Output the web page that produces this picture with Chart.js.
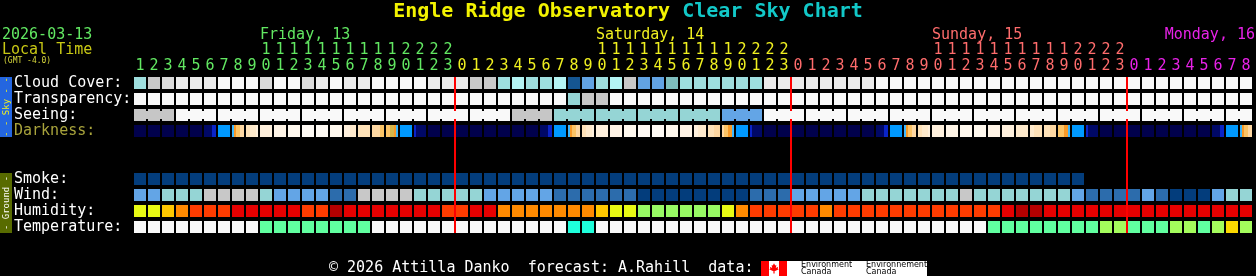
<!DOCTYPE html>
<html lang="en">
<head>
<meta charset="UTF-8" />
<title>Engle Ridge Observatory Clear Sky Chart</title>
<script src="https://cdn.jsdelivr.net/npm/chart.js@4.4.1/dist/chart.umd.min.js"></script>
<style>
  html, body { margin: 0; padding: 0; background: #000; }
  canvas { display: block; }
</style>
</head>
<body>
<canvas id="csc" width="1256" height="276"></canvas>
<script>
// local hour of each column (Fri 1h .. Mon 8h)
const hours = [1,2,3,4,5,6,7,8,9,10,11,12,13,14,15,16,17,18,19,20,21,22,23,
  0,1,2,3,4,5,6,7,8,9,10,11,12,13,14,15,16,17,18,19,20,21,22,23,
  0,1,2,3,4,5,6,7,8,9,10,11,12,13,14,15,16,17,18,19,20,21,22,23,
  0,1,2,3,4,5,6,7,8];
const days = ['Friday, 13', 'Saturday, 14', 'Sunday, 15', 'Monday, 16'];
const dayColors = ['#62e862', '#f0f020', '#ff6c6c', '#e822e8'];

const rowLabels = ['Cloud Cover:', 'Transparency:', 'Seeing:', 'Darkness:', 'Smoke:', 'Wind:', 'Humidity:', 'Temperature:'];
const rowPos = [0, 1, 2, 3, 6, 7, 8, 9];

// cloud cover, percent
const cloud = [50,70,80,90,90,90,100,100,100,80,100,100,80,90,100,90,90,100,100,100,100,
  90,90,90,70,70,50,60,50,50,60,10,30,50,60,70,30,30,40,50,50,
  50,50,50,50,90,90,90,90,90,90,90,90,100,100,100,100,100,100,100,100,
  100,100,100,100,100,100,100,100,100,100,100,100,100,100,100,100,100,100,100];
// 0 too cloudy, 1 poor, 2 below average
const transparency = [0,0,0,0,0,0,0,0,0,0,0,0,0,0,0,0,0,0,0,0,0,
  0,0,0,0,0,0,0,0,0,0,2,1,1,0,0,0,0,0,0,0,
  0,0,0,0,0,0,0,0,0,0,0,0,0,0,0,0,0,0,0,0,
  0,0,0,0,0,0,0,0,0,0,0,0,0,0,0,0,0,0,0];
// 0 too cloudy, 1 bad, 2 poor, 3 average
const seeing = [1,1,1,0,0,0,0,0,0,0,0,0,0,0,0,0,0,0,0,0,0,
  0,0,0,0,0,0,1,1,1,2,2,2,2,2,2,2,2,2,2,2,
  2,3,3,3,0,0,0,0,0,0,0,0,0,0,0,0,0,0,0,0,
  0,0,0,0,0,0,0,0,0,0,0,0,0,0,0,0,0,0,0];
// darkness, six samples per hour
const darkness = ['NNNNNN','NNNNNN','NNNNNN','NNNNNN','NNNNNN','LLLLDD','BBBBBB','COYYPP','QQRRRS','SSSSSS',
  'TTTTTT','UUUUUU','VVVVVV','VVVVVV','UUUUUU','SSSRRR','QQQQQQ','PPPPYY','YYGGOC','BBBBBB',
  'DLLLLL','NNNNNN','NNNNNN','NNNNNN','NNNNNN','NNNNNN','NNNNNN','NNNNNN','NNNNNN','LLLLDD',
  'BBBBBB','COYYPP','QQRRRS','SSSSSS','TTTTTT','UUUUUU','VVVVVV','VVVVVV','UUUUUU','TTTTTT',
  'SSRRRR','QQQPPP','PYYOOC','BBBBBB','DLLLLL','NNNNNN','NNNNNN','NNNNNN','NNNNNN','NNNNNN',
  'NNNNNN','NNNNNN','NNNNNN','LLLLDD','BBBBBB','COYYPP','QQRRRS','SSSSSS','TTTTTT','UUUUUU',
  'UUUUUU','TTTTTT','SSSSSS','RRRRRR','RRQQQQ','QQQPPP','YYYOOC','BBBBBB','DLLLLL','NNNNNN',
  'NNNNNN','NNNNNN','NNNNNN','NNNNNN','NNNNNN','NNNNNN','NNNNNN','LLLLDD','BBBBBB','COYYPP'];
// 0 no smoke, null = no forecast
const smoke = [0,0,0,0,0,0,0,0,0,0,0,0,0,0,0,0,0,0,0,0,0,
  0,0,0,0,0,0,0,0,0,0,0,0,0,0,0,0,0,0,0,0,
  0,0,0,0,0,0,0,0,0,0,0,0,0,0,0,0,0,0,0,0,
  0,0,0,0,0,0,0,null,null,null,null,null,null,null,null,null,null,null,null];
// 0: 0-5 km/h, 1: 6-11, 2: 12-16, 3: 17-28, 4: 29-45
const wind = [2,2,3,3,3,4,4,4,4,3,2,2,2,2,1,1,4,4,4,4,3,
  3,3,3,3,2,2,2,2,2,1,1,1,1,1,1,0,0,0,0,0,
  0,0,0,1,1,1,2,2,2,2,2,3,3,3,3,3,3,3,4,3,
  3,3,3,3,3,3,2,1,1,1,1,2,1,0,0,0,2,3,3];
// relative humidity, percent
const humidity = [63,63,68,73,78,78,78,85,85,85,85,85,78,78,95,85,85,85,85,85,85,
  85,78,78,85,85,73,73,73,73,73,73,73,68,63,63,58,58,58,58,58,
  58,63,73,78,78,78,78,78,73,78,78,78,78,78,78,78,78,78,78,78,
  78,85,95,95,85,85,85,85,85,85,85,85,85,85,85,85,85,85,85];
// temperature class
const temperature = [0,0,0,0,0,0,0,0,0,2,2,2,2,2,2,2,2,0,0,0,0,
  0,0,0,0,0,0,0,0,0,0,1,1,0,0,0,0,0,0,0,0,
  0,0,0,0,0,0,0,0,0,0,0,0,0,0,0,0,0,0,0,0,
  2,2,2,2,2,2,2,2,3,3,2,2,2,3,3,2,3,4,3];

const cloudColors = {0:'#003f7f',10:'#155692',20:'#2c6faf',30:'#62a3e3',40:'#7ebebe',50:'#9edede',
  60:'#b4f4f4',70:'#c8c8c8',80:'#dadada',90:'#ebebeb',100:'#f9f9f9'};
const transColors = ['#f9f9f9', '#c8c8c8', '#95d5d5'];
const seeingColors = ['#f9f9f9', '#c6c6c6', '#95d5d5', '#63a5e6'];
const darkColors = {N:'#01014c', L:'#000866', D:'#0a24c8', B:'#0099ff', C:'#3cb8ff', O:'#f89a28',
  Y:'#fcc466', G:'#d6b64a', P:'#ffd8a2', Q:'#ffe2b8', R:'#ffeacc', S:'#fff0dc', T:'#fff4e6',
  U:'#fff8ee', V:'#fffaf4'};
const smokeColors = ['#033d7c'];
const windColors = ['#033d7c', '#2c6cac', '#63a5e6', '#95d5d5', '#c8c8c8'];
const humidSteps = [[60,'#98fa64'],[65,'#e8fa14'],[70,'#fec800'],[75,'#ff8a00'],[80,'#ff3c00'],[90,'#e60000'],[101,'#b40000']];
const tempColors = ['#f9f9f9', '#1effdc', '#60ffa0', '#a4fc5c', '#fcd800'];

const dayOf = [];
hours.forEach((h, i) => dayOf.push(i === 0 ? 0 : dayOf[i - 1] + (h === 0 ? 1 : 0)));

const HALF = 0.375;
const FONT = 'DejaVu Sans Mono';

function humidColor(v) {
  return humidSteps.find(s => v < s[0])[1];
}

function cellRow(values, row, colorOf) {
  return {
    data: values.map(v => v === null ? null : [row - HALF, row + HALF]),
    backgroundColor: values.map(v => v === null ? 'rgba(0,0,0,0)' : colorOf(v)),
    xAxisID: 'x'
  };
}

// seeing is forecast in 3 hour blocks: thin links join the cells of a block
const seeingLinks = [];
for (let j = 0; j < hours.length - 1; j++) {
  if (j % 3 !== 2) seeingLinks.push({x: j + 0.5, y: [2 - 0.25, 2 + 0.25], c: seeingColors[seeing[j]]});
}
const darkSubs = [];
darkness.forEach((s, j) => {
  [...s].forEach((c, k) => darkSubs.push({x: j + (2 * k - 5) / 14, y: [3 - HALF, 3 + HALF], c: darkColors[c]}));
});

const datasets = [
  cellRow(cloud, 0, v => cloudColors[v]),
  cellRow(transparency, 1, v => transColors[v]),
  cellRow(seeing, 2, v => seeingColors[v]),
  {data: seeingLinks, backgroundColor: seeingLinks.map(d => d.c), xAxisID: 'xs', barPercentage: 2 / 14},
  {data: darkSubs, backgroundColor: darkSubs.map(d => d.c), xAxisID: 'xd', barPercentage: 1},
  cellRow(smoke, 6, v => smokeColors[v]),
  cellRow(wind, 7, v => windColors[v]),
  cellRow(humidity, 8, humidColor),
  cellRow(temperature, 9, v => tempColors[v])
].map(d => Object.assign({grouped: false, categoryPercentage: 1, barPercentage: 12 / 14,
  borderWidth: 0, inflateAmount: 0, yAxisID: 'y'}, d));

const decor = {
  id: 'decor',
  afterDraw(chart) {
    const ctx = chart.ctx;
    const xs = chart.scales.x;
    ctx.save();
    ctx.textBaseline = 'middle';
    ctx.textAlign = 'left';

    // title
    ctx.font = 'bold 20px ' + FONT;
    const t1 = 'Engle Ridge Observatory ', t2 = 'Clear Sky Chart';
    const w1 = ctx.measureText(t1).width, w2 = ctx.measureText(t2).width;
    let tx = (chart.width - w1 - w2) / 2;
    ctx.fillStyle = '#f2f200';
    ctx.fillText(t1, tx, 12);
    ctx.fillStyle = '#12c8c8';
    ctx.fillText(t2, tx + w1, 12);

    // date / local time
    ctx.font = '15px ' + FONT;
    ctx.fillStyle = dayColors[0];
    ctx.fillText('2026-03-13', 2, 35);
    ctx.fillStyle = '#c8c814';
    ctx.fillText('Local Time', 2, 50);
    ctx.font = '8px ' + FONT;
    ctx.fillStyle = '#d8d83c';
    ctx.fillText('(GMT -4.0)', 3, 61);

    // day names over 10h of each day
    ctx.font = '15px ' + FONT;
    days.forEach((d, k) => {
      ctx.fillStyle = dayColors[k];
      const i = hours.findIndex((h, n) => dayOf[n] === k && h === 10);
      if (i >= 0) {
        ctx.textAlign = 'left';
        ctx.fillText(d, xs.getPixelForValue(i) - 6, 35);
      } else {
        ctx.textAlign = 'right';
        ctx.fillText(d, chart.width - 1, 35);
      }
    });

    // side bars
    ctx.fillStyle = '#2466e0';
    ctx.fillRect(0, 77, 12, 60);
    ctx.fillStyle = '#586b00';
    ctx.fillRect(0, 173, 12, 60);
    ctx.font = '9px ' + FONT;
    ctx.textAlign = 'center';
    ctx.save();
    ctx.translate(6.5, 107);
    ctx.rotate(-Math.PI / 2);
    ctx.fillStyle = '#f0f020';
    ctx.fillText('- - Sky - -', 0, 0);
    ctx.restore();
    ctx.save();
    ctx.translate(6.5, 203);
    ctx.rotate(-Math.PI / 2);
    ctx.fillStyle = '#ffffff';
    ctx.fillText('- Ground -', 0, 0);
    ctx.restore();

    // footer
    ctx.textAlign = 'left';
    ctx.font = '15px ' + FONT;
    ctx.fillStyle = '#ffffff';
    ctx.fillText('\u00a9 2026 Attilla Danko  forecast: A.Rahill  data:', 329, 268);

    // Environment Canada logo
    ctx.fillStyle = '#ff0000';
    ctx.fillRect(761, 261, 8, 15);
    ctx.fillRect(779, 261, 8, 15);
    ctx.fillStyle = '#ffffff';
    ctx.fillRect(769, 261, 10, 15);
    ctx.fillRect(787, 261, 140, 15);
    const leaf = [[0,-4],[1,-2],[2,-2.5],[1.5,0],[3.5,-1],[3,0.5],[4,1],[1,2.5],[0.5,2.5],[0.5,4.5],
      [-0.5,4.5],[-0.5,2.5],[-1,2.5],[-4,1],[-3,0.5],[-3.5,-1],[-1.5,0],[-2,-2.5],[-1,-2]];
    ctx.fillStyle = '#ff0000';
    ctx.beginPath();
    leaf.forEach((p, i) => i ? ctx.lineTo(774 + p[0] * 1.2, 268 + p[1] * 1.2) : ctx.moveTo(774 + p[0] * 1.2, 268 + p[1] * 1.2));
    ctx.closePath();
    ctx.fill();
    ctx.fillStyle = '#000000';
    ctx.font = '8px DejaVu Sans';
    ctx.fillText('Environment', 801, 265);
    ctx.fillText('Canada', 801, 272);
    ctx.fillText('Environnement', 866, 265);
    ctx.fillText('Canada', 866, 272);
    ctx.restore();
  }
};

new Chart(document.getElementById('csc'), {
  type: 'bar',
  data: {labels: hours.map(String), datasets},
  plugins: [decor],
  options: {
    responsive: false,
    animation: false,
    events: [],
    layout: {padding: {left: 14, right: 3, top: 0, bottom: 43}},
    plugins: {legend: {display: false}, tooltip: {enabled: false}, title: {display: false}},
    scales: {
      x: {
        type: 'category',
        position: 'top',
        offset: true,
        border: {display: false},
        grid: {
          offset: true,
          drawTicks: false,
          lineWidth: 2,
          color: c => hours[c.index] === 0 ? '#ff0000' : 'rgba(0,0,0,0)'
        },
        ticks: {
          autoSkip: false,
          maxRotation: 0,
          padding: 3,
          font: {family: FONT, size: 15, lineHeight: '16px'},
          color: c => dayColors[dayOf[c.index]],
          callback: (v, i) => hours[i] >= 10 ? [String(Math.floor(hours[i] / 10)), String(hours[i] % 10)] : String(hours[i])
        },
        afterFit: s => { s.height = 77; }
      },
      xs: {type: 'linear', display: false, min: -0.5, max: 79.5, afterBuildTicks: s => { s.ticks = []; }},
      xd: {type: 'linear', display: false, min: -0.5, max: 79.5, afterBuildTicks: s => { s.ticks = []; }},
      y: {
        type: 'linear',
        reverse: true,
        min: -HALF,
        max: 9 + HALF,
        border: {display: false},
        grid: {display: false},
        afterBuildTicks: s => { s.ticks = rowPos.map(v => ({value: v})); },
        ticks: {
          autoSkip: false,
          padding: 0,
          crossAlign: 'far',
          font: {family: FONT, size: 15},
          color: c => rowLabels[c.index] === 'Darkness:' ? '#a8a33c' : '#ffffff',
          callback: v => rowLabels[rowPos.indexOf(v)]
        },
        afterFit: s => { s.width = 119; }
      }
    }
  }
});
</script>
</body>
</html>
